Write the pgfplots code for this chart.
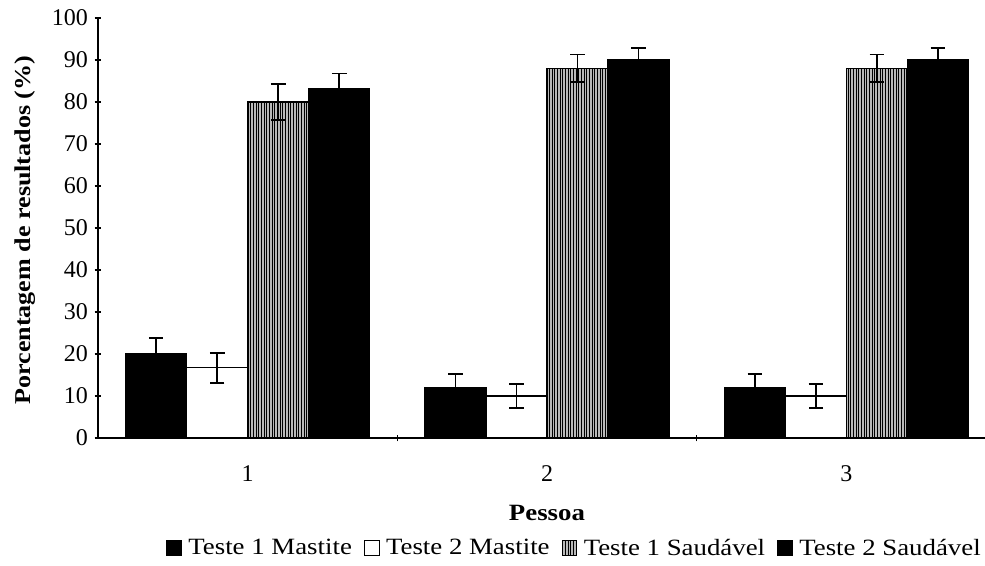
\documentclass[border=0pt]{standalone}
\usepackage{fontspec}
\setmainfont{Liberation Serif}[FakeStretch=1.15]
\newfontfamily\tickfont{Liberation Serif}
\usepackage{pgfplots}
\pgfplotsset{compat=1.18}
\usetikzlibrary{patterns.meta}
\newcommand{\tk}[1]{{\tickfont\fontsize{18}{22}\selectfont #1}}
\begin{document}
\begin{tikzpicture}[font=\fontsize{18}{22}\selectfont]
\clip (-73.5pt,-95.25pt) rectangle (665.25pt,328.5pt);
\begin{axis}[
  at={(0,0)}, anchor=south west,
  scale only axis, width=673.5pt, height=315pt,
  ybar=0pt, bar width=45.75pt,
  xmin=-0.5, xmax=2.5, ymin=0, ymax=100,
  ytick={0,10,...,100},
  yticklabel={\tk{\pgfmathprintnumber{\tick}}},
  yticklabel style={xshift=-1.5pt},
  xtick={0.5,1.5}, xticklabels={},
  extra x ticks={0,1,2}, extra x tick labels={\tk{1},\tk{2},\tk{3}},
  extra x tick style={major tick length=0pt, xticklabel style={yshift=-17pt}},
  tick align=outside, major tick length=5pt,
  tick style={black, line width=0.8pt},
  axis lines=left, axis line style={-, line width=0.8pt},
  /pgf/number format/assume math mode=true,
  xlabel={\textbf{Pessoa}},
  xlabel style={at={(axis description cs:0.5,-0.178)}, anchor=center, font=\fontsize{17.5}{20}\selectfont},
  ylabel={\textbf{Porcentagem de resultados (\%)}},
  ylabel style={at={(axis description cs:-0.0813,0.495)}, anchor=center, font=\fontsize{17}{20}\selectfont},
  legend style={at={(0.0757,-0.262)}, anchor=west, draw=none, inner sep=0pt,
    legend columns=-1, font=\fontsize{17.5}{21}\selectfont,
    /tikz/every odd column/.append style={column sep=3pt},
    /tikz/every even column/.append style={column sep=7pt}},
  legend image code/.code={\draw[#1, line width=0.6pt] (0pt,-5.5pt) rectangle (11pt,5.5pt);},
  error bars/y dir=both, error bars/y explicit,
  error bars/error bar style={black, line width=1.3pt},
  error bars/error mark options={black, rotate=90, mark size=5.5pt, line width=1.3pt},
]
\addplot[draw=black, line width=0.8pt, fill=black] coordinates {(0,20) +- (0,3.8) (1,12) +- (0,3.3) (2,12) +- (0,3.3)};
\addplot[draw=black, line width=0.8pt, fill=white] coordinates {(0,16.7) +- (0,3.6) (1,10) +- (0,2.8) (2,10) +- (0,2.8)};
\addplot[draw=black, line width=0.8pt, fill=gray!55, postaction={pattern={Lines[angle=90,distance=2pt,line width=0.75pt]}, pattern color=black}] coordinates {(0,80) +- (0,4.2) (1,88) +- (0,3.3) (2,88) +- (0,3.3)};
\addplot[draw=black, line width=0.8pt, fill=black] coordinates {(0,83.3) +- (0,3.5) (1,90) +- (0,2.8) (2,90) +- (0,2.8)};
\legend{Teste 1 Mastite, Teste 2 Mastite, Teste 1 Saudável, Teste 2 Saudável}
\end{axis}
\end{tikzpicture}
\end{document}
